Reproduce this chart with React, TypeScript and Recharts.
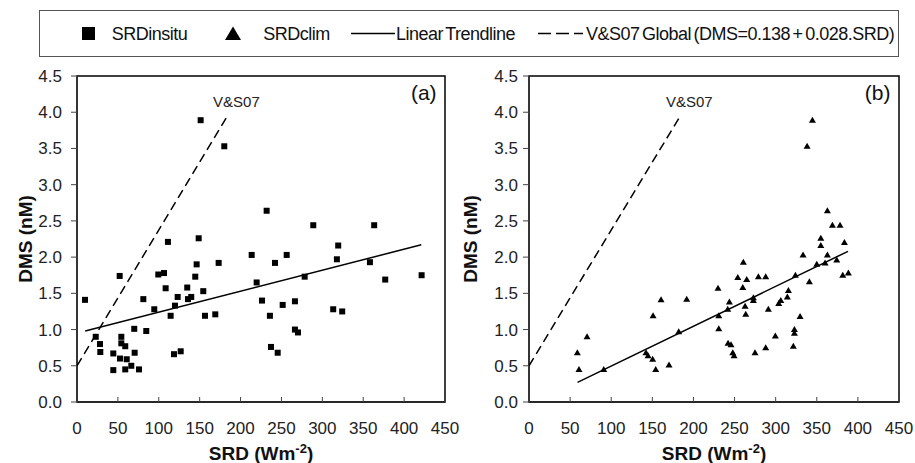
import React from 'react';
import { ScatterChart, Scatter, XAxis, YAxis, ReferenceArea, ReferenceDot, Label } from 'recharts';

// (a) DMS against in situ SRD
const insituSRD = [
  9.8, 22.9, 28.1, 28.5, 44.4, 44.4, 52.2, 54.2, 54.2, 59.0, 52.6, 60.8, 59.0, 66.4, 70.5, 70.0, 75.8,
  81.1, 84.7, 94.5, 99.4, 106.4, 108.4, 111.2, 114.5, 118.6, 126.8, 119.8, 123.1, 134.8, 135.7, 139.7,
  144.6, 146.3, 148.8, 151.2, 154.4, 156.5, 169.1, 173.2, 180.1, 213.6, 219.7, 231.9, 226.2, 242.1,
  256.4, 235.9, 251.5, 266.5, 237.2, 245.4, 266.5, 270.2, 278.4, 288.9, 313.3, 324.3, 317.8, 319.4,
  358.2, 363.4, 376.9, 421.4,
];
const insituDMS = [
  1.41, 0.9, 0.8, 0.69, 0.67, 0.44, 1.74, 0.9, 0.81, 0.77, 0.6, 0.59, 0.45, 0.5, 0.68, 1.01, 0.45,
  1.42, 0.98, 1.28, 1.76, 1.78, 1.57, 2.21, 1.19, 0.66, 0.7, 1.33, 1.45, 1.58, 1.42, 1.45,
  1.73, 1.9, 2.26, 3.89, 1.53, 1.19, 1.21, 1.92, 3.53, 2.03, 1.65, 2.64, 1.4, 1.92,
  2.03, 1.19, 1.34, 1.39, 0.76, 0.68, 1.0, 0.96, 1.73, 2.44, 1.28, 1.25, 1.97, 2.16,
  1.93, 2.44, 1.69, 1.75,
];

// (b) DMS against climatological SRD
const climSRD = [
  58.8, 60.8, 70.6, 90.9, 142.3, 144.8, 150.4, 154.1, 150.9, 160.6, 170.3, 182.1, 191.8, 229.9, 230.8,
  230.8, 243.7, 241.7, 242.1, 245.7, 247.8, 249.4, 260.7, 253.9, 260.0, 264.8, 262.8, 263.6, 272.9,
  272.9, 279.0, 287.9, 274.9, 287.9, 291.1, 299.6, 303.7, 306.2, 314.2, 315.5, 322.8, 322.8, 321.5,
  324.0, 329.7, 333.3, 341.0, 338.2, 344.7, 350.0, 354.9, 354.9, 360.1, 362.9, 362.9, 369.0, 378.3,
  374.3, 383.6, 381.6, 388.4,
];
const climDMS = [
  0.68, 0.45, 0.9, 0.45, 0.68, 0.64, 0.59, 0.45, 1.19, 1.41, 0.51, 0.97, 1.42, 1.57, 1.19,
  1.01, 1.38, 1.28, 0.81, 0.79, 0.68, 0.64, 1.93, 1.72, 1.58, 1.69, 1.32, 1.21, 1.44,
  1.4, 1.73, 1.73, 0.68, 0.75, 1.28, 0.91, 1.36, 1.4, 1.45, 1.54, 1.0, 0.95, 0.77,
  1.75, 1.18, 2.03, 1.66, 3.53, 3.89, 1.9, 2.26, 2.16, 1.92, 2.03, 2.64, 2.44, 2.44,
  1.96, 2.2, 1.75, 1.78,
];

// line end points
const trendASRD = [10, 421];
const trendADMS = [0.98, 2.17];
const trendBSRD = [59, 388];
const trendBDMS = [0.27, 2.08];
const vsSRD = [0, 183];
const vsDMS = [0.5, 3.93];

const xTicks = [0, 50, 100, 150, 200, 250, 300, 350, 400, 450];
const yTicks = [0, 0.5, 1, 1.5, 2, 2.5, 3, 3.5, 4, 4.5];

const toPoints = (xs: number[], ys: number[]) => xs.map((srd, i) => ({ srd, dms: ys[i] }));

const SquareDot = (p: any) => <rect x={p.cx - 3} y={p.cy - 3} width={6} height={6} fill="#000" />;
const TriangleDot = (p: any) => (
  <polygon
    points={`${p.cx},${p.cy - 3.5} ${p.cx + 3.5},${p.cy + 2.5} ${p.cx - 3.5},${p.cy + 2.5}`}
    fill="#000"
  />
);
const NoDot = () => <g />;

interface PanelProps {
  points: { srd: number; dms: number }[];
  shape: (p: any) => React.ReactElement;
  trend: { srd: number; dms: number }[];
  tag: string;
  left: number;
  width: number;
  yAxisWidth: number;
  marginRight: number;
  yTickMargin: number;
  yTitleX: number;
}

function Panel(props: PanelProps) {
  const { points, shape, trend, tag, left, width, yAxisWidth, marginRight, yTickMargin, yTitleX } = props;
  const plotLeft = yAxisWidth;
  const plotRight = width - marginRight;
  const titleCx = (plotLeft + plotRight) / 2;
  return (
    <div style={{ position: 'absolute', left, top: 0 }}>
      <ScatterChart width={width} height={463} margin={{ top: 76, right: marginRight, bottom: 0, left: 0 }}>
        <ReferenceArea x1={0} x2={450} y1={0} y2={4.5} fill="none" stroke="#000" strokeWidth={1.5} ifOverflow="visible" />
        <XAxis
          dataKey="srd"
          type="number"
          domain={[0, 450]}
          ticks={xTicks}
          interval={0}
          height={61}
          allowDataOverflow
          tickSize={-5}
          tickMargin={25}
          axisLine={{ stroke: '#222', strokeWidth: 1.5 }}
          tickLine={{ stroke: '#444' }}
          tick={{ fill: '#222', fontSize: 17 }}
        >
          <Label
            content={() => (
              <text x={titleCx} y={460} textAnchor="middle" fontSize={19} fontWeight="bold" fill="#111">
                SRD (Wm<tspan dy={-7} fontSize={13}>-2</tspan>
                <tspan dy={7}>)</tspan>
              </text>
            )}
          />
        </XAxis>
        <YAxis
          dataKey="dms"
          type="number"
          domain={[0, 4.5]}
          ticks={yTicks}
          interval={0}
          width={yAxisWidth}
          allowDataOverflow
          tickSize={6}
          tickMargin={yTickMargin}
          tickFormatter={(v: number) => v.toFixed(1)}
          axisLine={{ stroke: '#333', strokeWidth: 1.5 }}
          tickLine={{ stroke: '#444' }}
          tick={{ fill: '#222', fontSize: 17 }}
        >
          <Label
            content={() => (
              <text
                x={yTitleX}
                y={239}
                dy="0.35em"
                transform={`rotate(-90 ${yTitleX} 239)`}
                textAnchor="middle"
                fontSize={19}
                fontWeight="bold"
                fill="#111"
              >
                DMS (nM)
              </text>
            )}
          />
        </YAxis>
        <Scatter
          data={toPoints(vsSRD, vsDMS)}
          shape={NoDot}
          line={{ stroke: '#000', strokeWidth: 1.5, strokeDasharray: '9 5' }}
          lineType="joint"
          isAnimationActive={false}
        />
        <Scatter
          data={trend}
          shape={NoDot}
          line={{ stroke: '#000', strokeWidth: 1.5 }}
          lineType="joint"
          isAnimationActive={false}
        />
        <Scatter data={points} shape={shape} isAnimationActive={false} />
        <ReferenceDot
          x={195}
          y={4.15}
          r={0}
          fill="none"
          stroke="none"
          label={{ value: 'V&S07', position: 'center', fontSize: 15, fill: '#222' }}
        />
        <ReferenceDot
          x={424}
          y={4.27}
          r={0}
          fill="none"
          stroke="none"
          label={{ value: tag, position: 'center', fontSize: 21, fill: '#111' }}
        />
      </ScatterChart>
    </div>
  );
}

function LegendBox() {
  const txt = { fontSize: 18, fill: '#111', letterSpacing: -0.5, wordSpacing: -2 } as const;
  return (
    <svg width={915} height={70} style={{ position: 'absolute', left: 0, top: 0 }}>
      <rect x={39.5} y={10.5} width={859} height={46} fill="#fff" stroke="#555" />
      <rect x={82} y={27} width={13} height={13} fill="#000" />
      <text x={111.7} y={40} {...txt}>SRDinsitu</text>
      <polygon points="233,26.5 241,40 225,40" fill="#000" />
      <text x={263.3} y={40} {...txt}>SRDclim</text>
      <line x1={351} x2={395} y1={33.5} y2={33.5} stroke="#000" strokeWidth={1.5} />
      <text x={396} y={40} {...txt}>Linear Trendline</text>
      <line x1={538} x2={583} y1={33.5} y2={33.5} stroke="#000" strokeWidth={1.5} strokeDasharray="13 5" />
      <text x={586} y={40} {...txt}>V&amp;S07 Global (DMS=0.138 + 0.028.SRD)</text>
    </svg>
  );
}

export default function App() {
  return (
    <div
      style={{
        position: 'absolute',
        left: 0,
        top: 0,
        width: 915,
        height: 463,
        background: '#fff',
        fontFamily: "'Liberation Sans', Arial, sans-serif",
        overflow: 'hidden',
      }}
    >
      <Panel
        points={toPoints(insituSRD, insituDMS)}
        shape={SquareDot}
        trend={toPoints(trendASRD, trendADMS)}
        tag="(a)"
        left={0}
        width={470}
        yAxisWidth={77}
        marginRight={25}
        yTickMargin={9}
        yTitleX={25}
      />
      <Panel
        points={toPoints(climSRD, climDMS)}
        shape={TriangleDot}
        trend={toPoints(trendBSRD, trendBDMS)}
        tag="(b)"
        left={455}
        width={460}
        yAxisWidth={74}
        marginRight={16}
        yTickMargin={5}
        yTitleX={15}
      />
      <LegendBox />
    </div>
  );
}
